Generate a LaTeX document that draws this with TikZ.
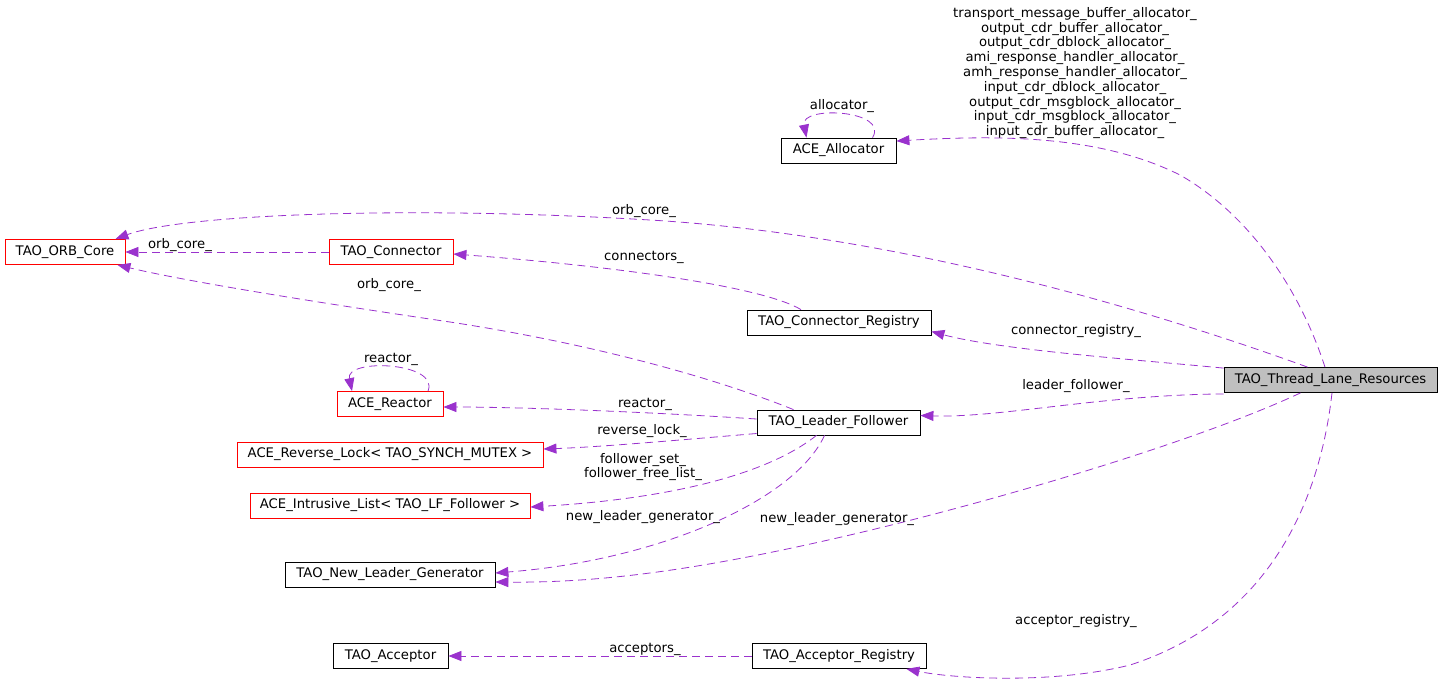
\documentclass[tikz,border=0pt]{standalone}
\usepackage{fontspec}
\setmainfont{DejaVu Sans}
\usetikzlibrary{arrows.meta, positioning}
\definecolor{relpurple}{RGB}{154,50,205}

\begin{document}
\begin{tikzpicture}[x=1pt, y=-1pt,
    font=\fontsize{13.2}{14.8}\selectfont,
    cls/.style={draw=black, line width=0.8pt, minimum height=25pt, inner sep=0pt},
    ext/.style={cls, draw=red},
    rel/.style={draw=relpurple, line width=0.8pt, dash pattern=on 8pt off 5pt,
        -{Triangle[length=13pt, width=10pt, fill=relpurple]}},
    lbl/.style={inner sep=1pt, align=center}]
    \useasboundingbox (0,0) rectangle (1443,682);

    % Classes
    \node[cls, fill=black!25, minimum width=213pt] (TLR) at (1330.5,380) {TAO\_Thread\_Lane\_Resources};
    \node[cls, minimum width=115pt] (ALLOC) at (838.5,150.5) {ACE\_Allocator};
    \node[ext, minimum width=120pt] (ORB) at (65,252) {TAO\_ORB\_Core};
    \node[ext, minimum width=124pt] (CONN) at (391,252) {TAO\_Connector};
    \node[cls, minimum width=184pt] (CREG) at (839,322.5) {TAO\_Connector\_Registry};
    \node[ext, minimum width=106pt] (REACT) at (390,404) {ACE\_Reactor};
    \node[cls, minimum width=163pt] (LF) at (838.5,422.5) {TAO\_Leader\_Follower};
    \node[ext, minimum width=306pt] (RLOCK) at (390,454.5) {ACE\_Reverse\_Lock< TAO\_SYNCH\_MUTEX >};
    \node[ext, minimum width=280pt] (ILIST) at (390,505.5) {ACE\_Intrusive\_List< TAO\_LF\_Follower >};
    \node[cls, minimum width=210pt] (NLG) at (390,574.5) {TAO\_New\_Leader\_Generator};
    \node[cls, minimum width=115pt] (ACC) at (390.5,656) {TAO\_Acceptor};
    \node[cls, minimum width=174pt] (AREG) at (839,656) {TAO\_Acceptor\_Registry};

    % Allocators
    \draw[rel] ([xshift=-5.5pt]TLR.north) .. controls (1300,290) and (1250,215) .. (1180,175)
        .. controls (1100,135) and (1000,135) .. ([yshift=9.5pt]ALLOC.east);
    \node[lbl] (lALLOC) at (1075,73) {transport\_message\_buffer\_allocator\_\\output\_cdr\_buffer\_allocator\_\\output\_cdr\_dblock\_allocator\_\\ami\_response\_handler\_allocator\_\\amh\_response\_handler\_allocator\_\\input\_cdr\_dblock\_allocator\_\\output\_cdr\_msgblock\_allocator\_\\input\_cdr\_msgblock\_allocator\_\\input\_cdr\_buffer\_allocator\_};
    \draw[rel] ([xshift=34pt]ALLOC.north) .. controls (890,110) and (800,105) .. ([xshift=-32pt]ALLOC.north);
    \node[lbl] (lSELF) at (842,106) {allocator\_};

    % ORB core
    \draw[rel] ([xshift=-23pt]TLR.north) .. controls (1150,310) and (900,235) .. (650,220)
        .. controls (400,205) and (180,215) .. ([xshift=-10pt]ORB.north east);
    \node[lbl] (lORB1) at (644,211) {orb\_core\_};
    \draw[rel] (CONN.west) -- (ORB.east);
    \node[lbl] (lORB2) at (180,245) {orb\_core\_};
    \draw[rel] ([xshift=-45pt]LF.north) .. controls (720,380) and (600,345) .. (450,322)
        .. controls (300,300) and (180,280) .. ([xshift=-8pt]ORB.south east);
    \node[lbl] (lORB3) at (389,285) {orb\_core\_};

    % Connectors
    \draw[rel] ([xshift=-38pt]CREG.north) .. controls (760,285) and (600,265) .. ([yshift=-2pt]CONN.east);
    \node[lbl] (lCONN) at (644,257) {connectors\_};
    \draw[rel] ([yshift=-1pt]TLR.north west) .. controls (1140,360) and (1000,350) .. ([yshift=-9pt]CREG.east);
    \node[lbl] (lCREG) at (1076,331) {connector\_registry\_};

    % Leader follower
    \draw[rel] ([yshift=-1pt]TLR.south west) .. controls (1100,395) and (1000,418) .. ([yshift=7pt]LF.east);
    \node[lbl] (lLF) at (1076,386) {leader\_follower\_};
    \draw[rel] ([xshift=38pt]REACT.north) .. controls (440,362) and (345,358) .. ([xshift=-38pt]REACT.north);
    \node[lbl] (lSELF2) at (391,359) {reactor\_};
    \draw[rel] ([yshift=3.5pt]LF.west) .. controls (650,412) and (520,407) .. ([yshift=-3pt]REACT.east);
    \node[lbl] (lREACT) at (645,404) {reactor\_};
    \draw[rel] ([yshift=-11pt]LF.west) .. controls (680,440) and (600,447) .. ([yshift=5.5pt]RLOCK.east);
    \node[lbl] (lRLOCK) at (642,431) {reverse\_lock\_};
    \draw[rel] ([xshift=-22pt]LF.south) .. controls (760,480) and (650,500) .. ([yshift=-1.5pt]ILIST.east);
    \node[lbl] (lILIST) at (643,467) {follower\_set\_\\follower\_free\_list\_};
    \draw[rel] ([xshift=-14pt]LF.south) .. controls (795,500) and (660,560) .. ([yshift=1.5pt]NLG.east);
    \node[lbl] (lNLG1) at (643,517) {new\_leader\_generator\_};
    \draw[rel] ([xshift=-30pt]TLR.south) .. controls (1200,440) and (1000,500) .. (850,535)
        .. controls (700,570) and (600,583) .. ([yshift=-7.5pt]NLG.east);
    \node[lbl] (lNLG2) at (837,519) {new\_leader\_generator\_};

    % Acceptors
    \draw[rel] ([xshift=1.5pt]TLR.south) .. controls (1320,500) and (1270,620) .. (1130,665)
        .. controls (1050,685) and (950,678) .. ([xshift=-20pt]AREG.south east);
    \node[lbl] (lAREG) at (1076,621) {acceptor\_registry\_};
    \draw[rel] (AREG.west) -- (ACC.east);
    \node[lbl] (lACC) at (645,649) {acceptors\_};
\end{tikzpicture}
\end{document}
